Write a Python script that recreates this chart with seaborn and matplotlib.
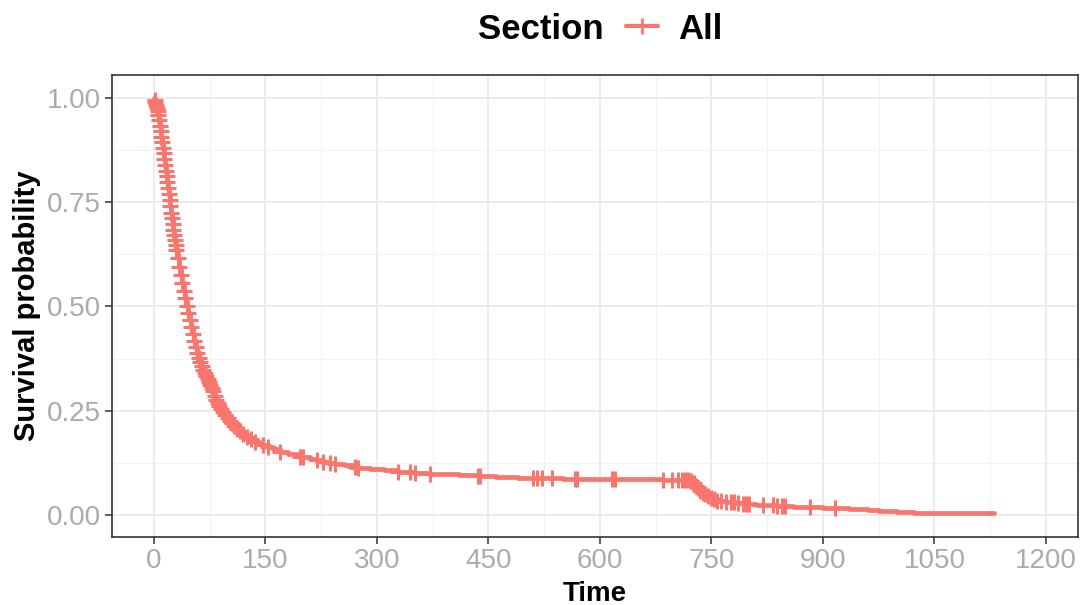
import numpy as np
import pandas as pd
import matplotlib
matplotlib.use("Agg")
import matplotlib.pyplot as plt
import seaborn as sns
from matplotlib.ticker import MultipleLocator

# Kaplan-Meier estimate: time, survival, censored flag
time = [0, 1, 2, 3, 4, 5, 6, 7, 8, 9, 10, 11, 12, 13, 14, 15, 16, 17, 18, 19,
        20, 21, 22, 23, 24, 25, 26, 27, 28, 29, 30, 32, 34, 36, 38, 40, 42, 44,
        46, 48, 50, 52, 54, 56, 58, 60, 62, 64, 66, 68, 70, 72, 74, 76, 78, 80,
        82, 84, 86, 88, 90, 93, 96, 99, 102, 105, 108, 112, 116, 120, 125, 130,
        136, 142, 147, 153, 160, 170, 180, 196, 201, 210, 219, 227, 237, 243,
        255, 270, 275, 290, 310, 328, 344, 351, 371, 390, 410, 436, 438, 460,
        490, 510, 515, 522, 535, 550, 566, 569, 590, 616, 620, 650, 685, 697,
        705, 710, 714, 718, 723, 726, 729, 732, 735, 738, 741, 745, 749, 753,
        758, 763, 770, 776, 781, 786, 792, 797, 801, 810, 820, 833, 838, 845,
        849, 860, 883, 900, 916, 935, 960, 975, 1000, 1022, 1130]
surv = [1.000, 0.995, 0.990, 0.983, 0.976, 0.968, 0.958, 0.946, 0.933, 0.920,
        0.907, 0.894, 0.880, 0.867, 0.853, 0.840, 0.826, 0.812, 0.798, 0.784,
        0.770, 0.755, 0.740, 0.725, 0.711, 0.697, 0.684, 0.671, 0.659, 0.647,
        0.635, 0.615, 0.595, 0.575, 0.556, 0.538, 0.520, 0.502, 0.485, 0.467,
        0.450, 0.434, 0.418, 0.403, 0.389, 0.376, 0.366, 0.357, 0.348, 0.340,
        0.332, 0.325, 0.318, 0.312, 0.305, 0.296, 0.286, 0.276, 0.268, 0.261,
        0.255, 0.247, 0.240, 0.233, 0.226, 0.220, 0.214, 0.207, 0.201, 0.195,
        0.188, 0.182, 0.176, 0.171, 0.167, 0.163, 0.158, 0.152, 0.147, 0.140,
        0.138, 0.134, 0.131, 0.128, 0.125, 0.123, 0.119, 0.115, 0.113, 0.110,
        0.107, 0.104, 0.102, 0.101, 0.099, 0.097, 0.095, 0.093, 0.093, 0.091,
        0.089, 0.089, 0.088, 0.088, 0.088, 0.087, 0.087, 0.087, 0.086, 0.086,
        0.086, 0.085, 0.084, 0.084, 0.083, 0.083, 0.083, 0.083, 0.082, 0.076,
        0.070, 0.064, 0.058, 0.053, 0.049, 0.046, 0.041, 0.037, 0.034, 0.033,
        0.032, 0.031, 0.030, 0.029, 0.027, 0.026, 0.025, 0.024, 0.024, 0.023,
        0.022, 0.021, 0.021, 0.020, 0.018, 0.017, 0.016, 0.014, 0.012, 0.010,
        0.008, 0.005, 0.005]
censored = [0, 1, 1, 1, 1, 1, 1, 1, 1, 1, 1, 1, 1, 1, 1, 1, 1, 1, 1, 1,
            1, 1, 1, 1, 1, 1, 1, 1, 1, 1, 1, 1, 1, 1, 1, 1, 1, 1, 1, 1,
            1, 1, 1, 1, 1, 1, 1, 1, 1, 1, 1, 1, 1, 1, 1, 1, 1, 1, 1, 1,
            1, 1, 1, 1, 1, 1, 1, 1, 1, 1, 1, 1, 1, 0, 1, 1, 0, 1, 0, 1,
            1, 0, 1, 1, 1, 1, 0, 1, 1, 0, 0, 1, 1, 1, 1, 0, 0, 1, 1, 0,
            0, 1, 1, 1, 1, 0, 1, 1, 0, 1, 1, 0, 1, 1, 1, 1, 1, 1, 1, 1,
            1, 1, 1, 1, 1, 1, 1, 1, 1, 1, 1, 1, 1, 1, 1, 1, 1, 0, 1, 1,
            1, 1, 1, 0, 1, 0, 1, 0, 0, 0, 0, 0, 0]

x_ticks = [0, 150, 300, 450, 600, 750, 900, 1050, 1200]
y_ticks = [0.00, 0.25, 0.50, 0.75, 1.00]
y_ticklabels = ["0.00", "0.25", "0.50", "0.75", "1.00"]
group_name = "All"

km = pd.DataFrame({"time": time, "surv": surv, "censored": censored})
marks = km[km["censored"] == 1]

sns.set_theme(style="white")
plt.rcParams["font.family"] = ["Liberation Sans", "DejaVu Sans"]

col = "#F8766D"
fig = plt.figure(figsize=(10.8, 6.05), dpi=100)
ax = fig.add_axes([0.1037, 0.1124, 0.8943, 0.7636])

sns.lineplot(data=km, x="time", y="surv", drawstyle="steps-post", color=col,
             linewidth=3.4, estimator=None, sort=False, ax=ax, zorder=3)
sns.scatterplot(data=marks, x="time", y="surv", marker="+", s=120, linewidth=2.2,
                color=col, ax=ax, zorder=4)

ax.set_xlim(-56.5, 1243)
ax.set_ylim(-0.053, 1.055)
ax.set_xticks(x_ticks)
ax.set_yticks(y_ticks)
ax.set_yticklabels(y_ticklabels)
ax.xaxis.set_minor_locator(MultipleLocator(75))
ax.yaxis.set_minor_locator(MultipleLocator(0.125))
ax.grid(which="major", color="#EBEBEB", linewidth=1.4)
ax.grid(which="minor", color="#F2F2F2", linewidth=0.8)
ax.set_axisbelow(True)

for sp in ax.spines.values():
    sp.set_visible(True)
    sp.set_color("#333333")
    sp.set_linewidth(1.2)

ax.tick_params(which="major", direction="out", length=5, width=1.1,
               color="#333333", labelsize=20, labelcolor="#ABABAB", pad=3,
               bottom=True, left=True)
ax.tick_params(which="minor", length=0)

ax.set_xlabel("Time", fontsize=20, fontweight="bold", color="black", labelpad=5)
ax.set_ylabel("Survival probability", fontsize=21, fontweight="bold",
              color="black", labelpad=4)

# legend on top: title + one key
fig.text(0.4425, 0.952, "Section", fontsize=25, fontweight="bold",
         color="black", ha="left", va="center")
handle = plt.Line2D([], [], color=col, linewidth=3, marker="+",
                    markersize=12, markeredgewidth=2)
leg = fig.legend([handle], [group_name], loc="center left",
                 bbox_to_anchor=(0.58, 0.952), frameon=False,
                 prop={"weight": "bold", "size": 25}, handlelength=0.9,
                 handletextpad=0.6, borderpad=0, borderaxespad=0)
for t in leg.get_texts():
    t.set_color("black")

fig.savefig("out.png", dpi=100)
